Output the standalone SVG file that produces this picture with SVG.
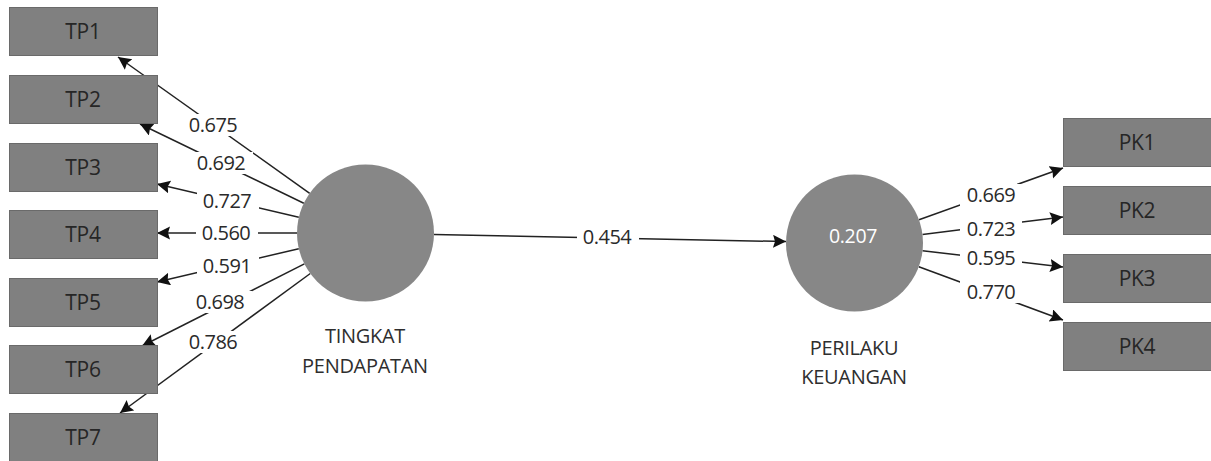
<svg xmlns="http://www.w3.org/2000/svg" width="1211" height="461" viewBox="0 0 1211 461">
  <defs>
    <marker id="arrow" markerUnits="userSpaceOnUse" markerWidth="15" markerHeight="14" refX="13" refY="6.5" orient="auto">
      <path d="M0,0 L13,6.5 L0,13 L2,6.5 z" fill="#111"/>
    </marker>
    <style>
      .box { fill: #808080; stroke: #6a6a6a; stroke-width: 1; }
      .boxtxt { font-family: "Open Sans", "Noto Sans", sans-serif; font-size: 21px; fill: #262626; text-anchor: middle; letter-spacing: -0.3px; }
      .lv { fill: #878787; }
      .lvname { font-family: "Open Sans", "Noto Sans", sans-serif; font-size: 20px; fill: #2e2e2e; text-anchor: middle; letter-spacing: -0.3px; }
      .r2 { font-family: "Open Sans", "Noto Sans", sans-serif; font-size: 19.5px; fill: #fff; text-anchor: middle; letter-spacing: -0.3px; }
      .edge { stroke: #222; stroke-width: 1.5; fill: none; marker-end: url(#arrow); }
      .lblbg { fill: #fff; }
      .lbl { font-family: "Open Sans", "Noto Sans", sans-serif; font-size: 20px; fill: #2a2a2a; text-anchor: middle; letter-spacing: -0.5px; }
    </style>
  </defs>
  <rect width="1211" height="461" fill="#fff"/>

  <!-- connectors -->
  <g id="connectors">
    <line class="edge" x1="309.7" y1="193.3" x2="118" y2="57"/>
    <line class="edge" x1="303.8" y1="203.2" x2="140" y2="124"/>
    <line class="edge" x1="298.8" y1="217.3" x2="157" y2="184"/>
    <line class="edge" x1="297" y1="233" x2="157" y2="233"/>
    <line class="edge" x1="298.8" y1="248.7" x2="157" y2="282"/>
    <line class="edge" x1="304.4" y1="263.9" x2="142" y2="346"/>
    <line class="edge" x1="310.3" y1="273.5" x2="120" y2="413"/>
    <line class="edge" x1="434" y1="234.4" x2="786" y2="241.6"/>
    <line class="edge" x1="919" y1="219.8" x2="1063" y2="168"/>
    <line class="edge" x1="922.5" y1="234.5" x2="1063" y2="217"/>
    <line class="edge" x1="922.5" y1="250.8" x2="1063" y2="267"/>
    <line class="edge" x1="918.8" y1="266.7" x2="1063" y2="320"/>

    <!-- path coefficients / loadings -->
    <g><rect class="lblbg" x="183" y="114" width="62" height="22"/><text class="lbl" x="213" y="132">0.675</text></g>
    <g><rect class="lblbg" x="191" y="152" width="62" height="22"/><text class="lbl" x="221" y="170">0.692</text></g>
    <g><rect class="lblbg" x="197" y="190" width="62" height="22"/><text class="lbl" x="227" y="208">0.727</text></g>
    <g><rect class="lblbg" x="196" y="222" width="62" height="22"/><text class="lbl" x="226" y="240">0.560</text></g>
    <g><rect class="lblbg" x="197" y="255" width="62" height="22"/><text class="lbl" x="227" y="273">0.591</text></g>
    <g><rect class="lblbg" x="190" y="291" width="62" height="22"/><text class="lbl" x="220" y="309">0.698</text></g>
    <g><rect class="lblbg" x="183" y="331" width="62" height="22"/><text class="lbl" x="213" y="349">0.786</text></g>
    <g><rect class="lblbg" x="577" y="226" width="62" height="22"/><text class="lbl" x="607" y="244">0.454</text></g>
    <g><rect class="lblbg" x="960" y="184" width="62" height="22"/><text class="lbl" x="991" y="202">0.669</text></g>
    <g><rect class="lblbg" x="960" y="218" width="62" height="22"/><text class="lbl" x="991" y="236">0.723</text></g>
    <g><rect class="lblbg" x="960" y="247" width="62" height="22"/><text class="lbl" x="991" y="265">0.595</text></g>
    <g><rect class="lblbg" x="960" y="281" width="62" height="22"/><text class="lbl" x="991" y="299">0.770</text></g>
  </g>

  <!-- indicators of TINGKAT PENDAPATAN -->
  <g id="TP1"><rect class="box" x="9.5" y="7.5" width="148" height="48"/><text class="boxtxt" x="83" y="39">TP1</text></g>
  <g id="TP2"><rect class="box" x="9.5" y="75.5" width="148" height="48"/><text class="boxtxt" x="83" y="107">TP2</text></g>
  <g id="TP3"><rect class="box" x="9.5" y="143.5" width="148" height="48"/><text class="boxtxt" x="83" y="175">TP3</text></g>
  <g id="TP4"><rect class="box" x="9.5" y="210.5" width="148" height="48"/><text class="boxtxt" x="83" y="242">TP4</text></g>
  <g id="TP5"><rect class="box" x="9.5" y="278.5" width="148" height="48"/><text class="boxtxt" x="83" y="310">TP5</text></g>
  <g id="TP6"><rect class="box" x="9.5" y="345.5" width="148" height="48"/><text class="boxtxt" x="83" y="377">TP6</text></g>
  <g id="TP7"><rect class="box" x="9.5" y="413.5" width="148" height="48"/><text class="boxtxt" x="83" y="445">TP7</text></g>

  <!-- latent variables -->
  <g id="TINGKAT_PENDAPATAN">
    <circle class="lv" cx="365.5" cy="233" r="68.5"/>
    <text class="lvname" x="365" y="343">TINGKAT</text>
    <text class="lvname" x="365" y="373">PENDAPATAN</text>
  </g>
  <g id="PERILAKU_KEUANGAN">
    <circle class="lv" cx="854.5" cy="243" r="68.5"/>
    <text class="r2" x="853" y="243">0.207</text>
    <text class="lvname" x="854" y="355">PERILAKU</text>
    <text class="lvname" x="854" y="384">KEUANGAN</text>
  </g>

  <!-- indicators of PERILAKU KEUANGAN -->
  <g id="PK1"><rect class="box" x="1063.5" y="118.5" width="149" height="48"/><text class="boxtxt" x="1137" y="150">PK1</text></g>
  <g id="PK2"><rect class="box" x="1063.5" y="186.5" width="149" height="48"/><text class="boxtxt" x="1137" y="218">PK2</text></g>
  <g id="PK3"><rect class="box" x="1063.5" y="254.5" width="149" height="48"/><text class="boxtxt" x="1137" y="286">PK3</text></g>
  <g id="PK4"><rect class="box" x="1063.5" y="322.5" width="149" height="48"/><text class="boxtxt" x="1137" y="354">PK4</text></g>
</svg>
